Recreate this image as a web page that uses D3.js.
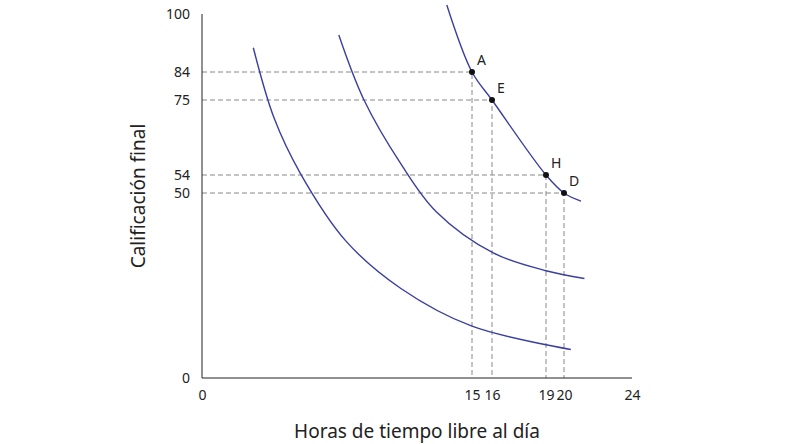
<!DOCTYPE html>
<html><head><meta charset="utf-8">
<script src="https://cdn.jsdelivr.net/npm/d3@7"></script>
<style>body{margin:0;background:#fff}text{font-family:"Noto Sans",sans-serif;fill:#222}</style>
</head><body><svg id="c" width="810" height="444"></svg>
<script>
const xTicks=[0,15,16,19,20,24];
const yTicks=[0,50,54,75,84,100];
const curve1=[[2.85,90.7],[4,70],[5.47,54.4],[8,37],[11.05,24.2],[15,14],[20.4,7.7]];
const curve2=[[7.6,94.2],[9,75],[11.05,57.1],[13,45],[16.07,33.8],[19,29],[21.2,26.9]];
const curve3=[[13.6,102.5],[15,84],[16,75],[19,54],[20,50],[21,47.8]];
const pointLabels=["A","E","H","D"];
const points=[[15,84],[16,75],[19,54],[20,50]];
const svg=d3.select("#c");
const x=d3.scaleLinear().domain(xTicks).range([202,472,492,546,564,632]);
const y=d3.scaleLinear().domain(yTicks).range([378,193,175,100,72,14]);
const line=d3.line().x(d=>x(d[0])).y(d=>y(d[1])).curve(d3.curveCatmullRom);
points.forEach(p=>{
 svg.append("path").attr("d",`M${x(0)},${y(p[1])}H${x(p[0])}V${y(0)}`).attr("fill","none")
 .attr("stroke","#888").attr("stroke-dasharray","5,3").attr("stroke-width",1);
});
[curve1,curve2,curve3].forEach(c=>svg.append("path").attr("d",line(c)).attr("fill","none").attr("stroke","#3a3fa0").attr("stroke-width",1.4));
svg.append("line").attr("x1",x(0)).attr("x2",x(0)).attr("y1",y(100)).attr("y2",y(0)).attr("stroke","#222");
svg.append("line").attr("x1",x(0)).attr("x2",x(24)).attr("y1",y(0)).attr("y2",y(0)).attr("stroke","#222");
const xa=svg.append("g").attr("transform",`translate(0,${y(0)})`).call(d3.axisBottom(x).tickValues(xTicks).tickSize(0).tickPadding(12));
xa.select(".domain").remove();
xa.selectAll("text").attr("font-size",14).style("font-family","Noto Sans");
const ya=svg.append("g").attr("transform",`translate(${x(0)},0)`).call(d3.axisLeft(y).tickValues(yTicks).tickSize(0).tickPadding(12));
ya.select(".domain").remove();
ya.selectAll("text").attr("font-size",14).style("font-family","Noto Sans");
points.forEach((p,i)=>{
 svg.append("circle").attr("cx",x(p[0])).attr("cy",y(p[1])).attr("r",3).attr("fill","#111");
 svg.append("text").attr("x",x(p[0])+5).attr("y",y(p[1])-7).attr("font-size",14).text(pointLabels[i]);
});
svg.append("text").attr("x",417).attr("y",438).attr("text-anchor","middle").attr("font-size",19).text("Horas de tiempo libre al día");
svg.append("text").attr("transform","translate(145,196) rotate(-90)").attr("text-anchor","middle").attr("font-size",19).text("Calificación final");
</script></body></html>
